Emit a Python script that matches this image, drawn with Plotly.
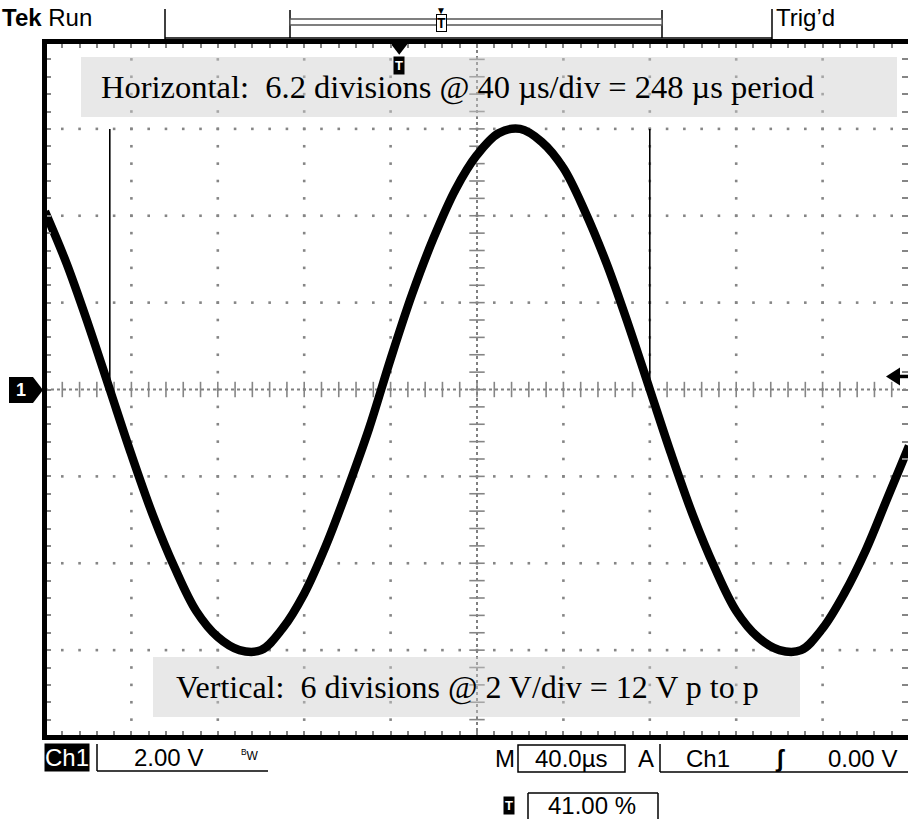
import plotly.graph_objects as go

# ---------------- data ----------------
time_us = [0, 10, 20, 30, 40, 50, 60, 70, 80, 90, 100, 110, 120, 130, 140, 150,
           160, 170, 180, 190, 200, 210, 220, 230, 240, 250, 260, 270, 280, 290,
           300, 310, 320, 330, 340, 350, 360, 370, 380, 390, 400]
volts = [4.1, 2.9, 1.5, 0.0, -1.5, -2.9, -4.1, -5.1, -5.7, -6.0, -6.0, -5.5, -4.7,
         -3.6, -2.3, -0.9, 0.7, 2.2, 3.5, 4.6, 5.4, 5.9, 6.0, 5.7, 5.1, 4.1, 2.9,
         1.5, 0.0, -1.5, -2.9, -4.1, -5.1, -5.7, -6.0, -6.0, -5.5, -4.7, -3.7,
         -2.5, -1.3]
cursor_times_us = [30, 280]
cursor_top_v = 6.0
trigger_pos_pct = 41.0
trigger_level_v = 0.3
us_per_div = 40
v_per_div = 2
n_xdiv = 10
n_ydiv = 8

top_note = "Horizontal:  6.2 divisions @ 40 \u00b5s/div = 248 \u00b5s period"
bottom_note = "Vertical:  6 divisions @ 2 V/div = 12 V p to p"
status_ch = "Ch1"
status_volts = "2.00 V"
status_time = "40.0\u00b5s"
status_trig_src = "Ch1"
status_trig_level = "0.00 V"
status_trig_pct = "41.00 %"

# ---------------- layout geometry ----------------
FW, FH = 908, 834
L, R, T, B = 45, 908, 42, 737
W, H = R - L, B - T
px_per_div = 86.4
x_max = W / px_per_div * us_per_div
y_half = n_ydiv / 2 * v_per_div


def px(x):
    return (x - L) / W


def py(y):
    return (B - y) / H


COND = "Liberation Sans, Arial, sans-serif"
SERIF = "Liberation Serif, Times New Roman, serif"
GRID = "#858585"

fig = go.Figure()

# grid dots along major lines
minor_x = [i * us_per_div / 5 for i in range(0, n_xdiv * 5 + 1)]
minor_y = [-y_half + j * v_per_div / 5 for j in range(0, n_ydiv * 5 + 1)]
centre_t = n_xdiv / 2 * us_per_div
gx, gy = [], []
for k in range(1, n_xdiv):
    t = k * us_per_div
    if abs(t - centre_t) < 1e-9:
        continue
    for v in minor_y[1:-1]:
        gx.append(t); gy.append(v)
for m in range(-n_ydiv // 2 + 1, n_ydiv // 2):
    v = m * v_per_div
    if m == 0:
        continue
    for t in minor_x[1:]:
        gx.append(t); gy.append(v)
fig.add_trace(go.Scatter(x=gx, y=gy, mode="markers",
                         marker=dict(symbol="square", size=2.6, color=GRID),
                         hoverinfo="skip", showlegend=False))

# centre cross: dense dotted lines + minor ticks
fig.add_trace(go.Scatter(x=[centre_t, centre_t], y=[-y_half, y_half], mode="lines",
                         line=dict(color="#808080", width=2, dash="dot"),
                         hoverinfo="skip", showlegend=False))
fig.add_trace(go.Scatter(x=[0, x_max], y=[0, 0], mode="lines",
                         line=dict(color="#808080", width=2, dash="dot"),
                         hoverinfo="skip", showlegend=False))
fig.add_trace(go.Scatter(x=[centre_t] * len(minor_y), y=minor_y, mode="markers",
                         marker=dict(symbol="line-ew", size=11,
                                     line=dict(color=GRID, width=1.6)),
                         hoverinfo="skip", showlegend=False))
fig.add_trace(go.Scatter(x=minor_x, y=[0] * len(minor_x), mode="markers",
                         marker=dict(symbol="line-ns", size=11,
                                     line=dict(color=GRID, width=1.6)),
                         hoverinfo="skip", showlegend=False))

# waveform
fig.add_trace(go.Scatter(x=time_us, y=volts, mode="lines",
                         line=dict(color="black", width=8.5, shape="spline", smoothing=1.0),
                         hoverinfo="skip", showlegend=False))

# trigger position marker
trig_t = trigger_pos_pct / 100 * n_xdiv * us_per_div
fig.add_trace(go.Scatter(x=[trig_t], y=[y_half - 0.12], mode="markers",
                         marker=dict(symbol="triangle-down", size=15, color="black"),
                         cliponaxis=False, hoverinfo="skip", showlegend=False))

shapes = []
# cursor lines
for ct in cursor_times_us:
    shapes.append(dict(type="line", xref="x", yref="y", x0=ct, x1=ct, y0=0, y1=cursor_top_v,
                       line=dict(color="black", width=1.6)))

# translucent note boxes
shapes.append(dict(type="rect", xref="paper", yref="paper", x0=px(81), x1=px(897),
                   y0=py(117), y1=py(57), fillcolor="rgba(205,205,205,0.45)",
                   line=dict(width=0), layer="above"))
shapes.append(dict(type="rect", xref="paper", yref="paper", x0=px(153), x1=px(800),
                   y0=py(717), y1=py(657), fillcolor="rgba(205,205,205,0.45)",
                   line=dict(width=0), layer="above"))

# screen border
shapes.append(dict(type="line", xref="paper", yref="paper", x0=px(44.5), x1=px(44.5),
                   y0=py(39), y1=py(740), line=dict(color="black", width=5)))
shapes.append(dict(type="line", xref="paper", yref="paper", x0=px(42), x1=1,
                   y0=py(41.5), y1=py(41.5), line=dict(color="black", width=5)))
shapes.append(dict(type="line", xref="paper", yref="paper", x0=px(42), x1=1,
                   y0=py(737.5), y1=py(737.5), line=dict(color="black", width=5)))


def seg(x0, y0, x1, y1, w=1.5, c="black"):
    shapes.append(dict(type="line", xref="paper", yref="paper", x0=px(x0), x1=px(x1),
                       y0=py(y0), y1=py(y1), line=dict(color=c, width=w)))


def poly(pts, fill="black"):
    d = "M " + " L ".join(f"{px(a):.5f},{py(b):.5f}" for a, b in pts) + " Z"
    shapes.append(dict(type="path", xref="paper", yref="paper", path=d,
                       fillcolor=fill, line=dict(width=0)))


# top status bar
seg(165, 9, 165, 39, 1.5)
seg(165, 38, 772, 38, 1.5)
seg(772, 9, 772, 39, 1.5)
seg(290, 10, 290, 38, 1.5)
seg(662, 10, 662, 38, 1.5)
shapes.append(dict(type="rect", xref="paper", yref="paper", x0=px(290), x1=px(662),
                   y0=py(25), y1=py(19), line=dict(color="#555", width=1.3),
                   fillcolor="white"))

# left channel marker
poly([(9, 377), (33, 377), (43, 390), (33, 403), (9, 403)])
# right trigger level arrow
tl_y = B - (trigger_level_v + y_half) / (2 * y_half) * H
poly([(886, tl_y), (900, tl_y - 9), (900, tl_y + 9)])
seg(898, tl_y, 908, tl_y, 3.5)

# bottom status boxes
seg(97, 744, 97, 771, 1.5)
seg(97, 771, 268, 771, 1.5)
shapes.append(dict(type="rect", xref="paper", yref="paper", x0=px(518), x1=px(625),
                   y0=py(772), y1=py(745), line=dict(color="black", width=1.5)))
seg(660, 744, 660, 772, 1.5)
seg(660, 772, 908, 772, 1.5)
seg(528, 793, 658, 793, 1.5)
seg(658, 793, 658, 819, 1.5)
seg(528, 793, 528, 819, 1.5)

annotations = []


def txt(x, y, s, size=20, color="black", fam=COND, anchor="center", bg=None, **kw):
    a = dict(xref="paper", yref="paper", x=px(x), y=py(y), text=s, showarrow=False,
             xanchor=anchor, yanchor="middle", font=dict(family=fam, size=size, color=color))
    if bg:
        a["bgcolor"] = bg
    a.update(kw)
    annotations.append(a)


txt(0, 17, "<b>Tek</b> Run", size=24, anchor="left")
txt(774, 17, "Trig\u2019d", size=24, anchor="left")
txt(441, 10, "\u25bc", size=10)
txt(441, 23, "<b>T</b>", size=14, bg="white", bordercolor="black", borderwidth=1, borderpad=0)

txt(21, 390, "<b>1</b>", size=18, color="white")
txt(trig_t / us_per_div * px_per_div + L, 66, "<b>T</b>", size=13, color="white",
    bg="black", borderpad=1)

txt(99, 87, top_note, size=32.5, fam=SERIF, anchor="left")
txt(174, 687, bottom_note, size=32, fam=SERIF, anchor="left")

txt(67, 757, status_ch, size=24, color="white", bg="black", borderpad=0)
txt(168, 757, status_volts, size=24)
txt(250, 755, "<sup>B</sup>W", size=12)
txt(505, 758, "M", size=24)
txt(571, 758, status_time, size=24)
txt(646, 758, "A", size=24)
txt(708, 758, status_trig_src, size=24)
txt(780, 758, "<b>\u0283</b>", size=24)
txt(862, 758, status_trig_level, size=24)
txt(509, 806, "<b>T</b>", size=13, color="white", bg="black", borderpad=1)
txt(592, 806, status_trig_pct, size=24)

fig.update_layout(
    width=FW, height=FH,
    margin=dict(l=L, r=FW - R, t=T, b=FH - B, pad=0),
    paper_bgcolor="white", plot_bgcolor="white",
    shapes=shapes, annotations=annotations, showlegend=False,
    xaxis=dict(range=[0, x_max], showgrid=False, zeroline=False, showline=False,
               ticks="inside", tickvals=minor_x, ticklen=6, tickwidth=1.5,
               tickcolor=GRID, showticklabels=False, mirror="ticks", fixedrange=True),
    yaxis=dict(range=[-y_half, y_half], showgrid=False, zeroline=False, showline=False,
               ticks="inside", tickvals=minor_y, ticklen=6, tickwidth=1.5,
               tickcolor=GRID, showticklabels=False, mirror="ticks", fixedrange=True),
)

fig.write_html("out.html", config={"displayModeBar": False},
               post_script="document.body.style.margin='0';document.body.style.padding='0';")
